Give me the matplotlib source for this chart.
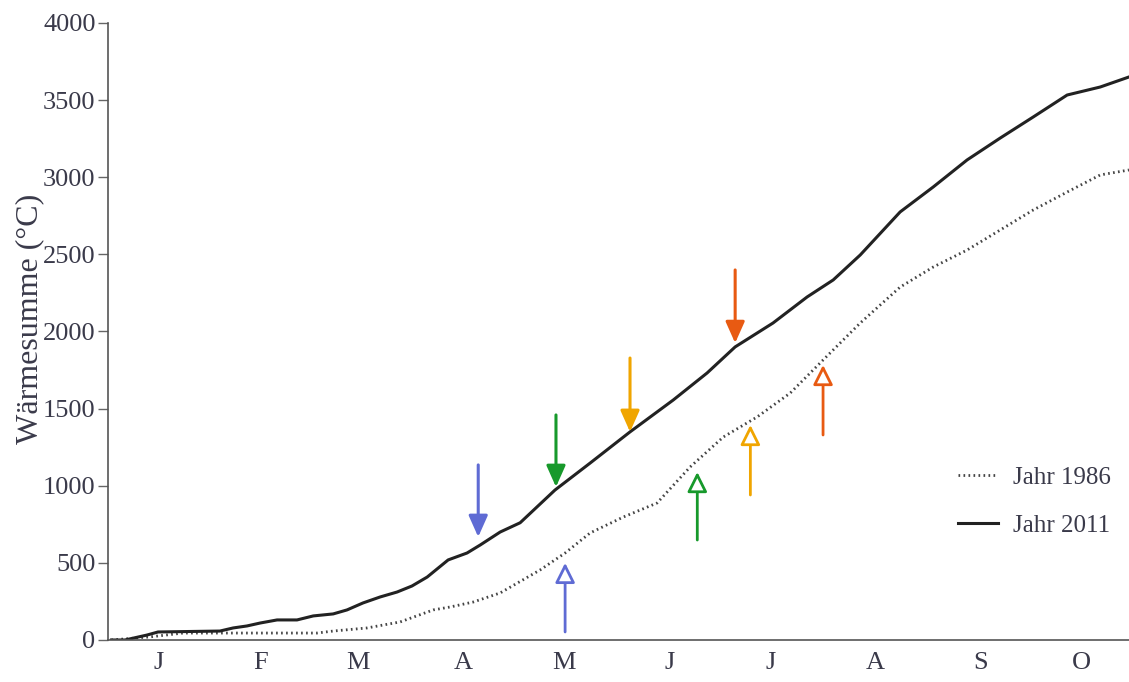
import matplotlib.pyplot as plt

plt.rcParams['font.family'] = ['Liberation Serif', 'DejaVu Serif']

# day of year and cumulative heat sum (°C)
days_2011 = [1, 5, 11.5, 14.8, 33.1, 37, 41.1, 45, 50, 55.9, 60.7, 66.6, 70.7, 75.4,
             80.5, 85.5, 89.9, 94.4, 100.6, 106.2, 110.1, 116, 121.9, 132.2, 142.6,
             154.4, 167.2, 177.2, 185.5, 196.7, 206.8, 214.5, 222.5, 234.3, 244.1,
             254.1, 263.9, 273.7, 283.7, 293.5, 302]
sum_2011 = [0, 0, 32, 52, 58, 78, 91, 110, 130, 130, 156, 169, 195, 240,
            279, 311, 350, 408, 519, 564, 616, 700, 760, 972, 1147,
            1349, 1556, 1731, 1900, 2055, 2224, 2334, 2496, 2775, 2937,
            3112, 3254, 3391, 3533, 3585, 3650]

days_1986 = [1, 12.4, 22.2, 61.8, 66.6, 76.6, 86.4, 96.2, 101.2, 108, 116, 127.8,
             135.2, 142.6, 152.4, 162.4, 172.2, 182, 192, 201.8, 211.5, 222.5,
             234.3, 244.1, 254.1, 263.9, 273.7, 283.7, 293.5, 302]
sum_1986 = [0, 20, 45, 45, 58, 78, 117, 195, 214, 246, 305, 454,
            564, 694, 797, 888, 1122, 1316, 1446, 1601, 1815, 2055,
            2288, 2418, 2528, 2658, 2788, 2904, 3015, 3047]

month_days = [15, 45, 74, 105, 135, 166, 196, 227, 258, 288]
month_labels = ['J', 'F', 'M', 'A', 'M', 'J', 'J', 'A', 'S', 'O']

arrow_colors = ['#5f6bd4', '#17992b', '#f0a500', '#e85a12']
# filled arrows pointing down onto 2011
down_x = [109.5, 132.5, 154.4, 185.5]
down_from = [1135, 1459, 1828, 2399]
down_to = [668, 992, 1349, 1925]
# open arrows pointing up towards 1986
up_x = [135.2, 174.3, 190, 211.5]
up_from = [52, 648, 940, 1329]
up_to = [500, 1089, 1394, 1783]

fig = plt.figure(figsize=(11.29, 6.82), dpi=100)
ax = fig.add_axes([0.0957, 0.0616, 0.9043, 0.9047])

ax.plot(days_1986, sum_1986, color='#444444', lw=2, linestyle=(0, (0.6, 1.2)), label='Jahr 1986')
ax.plot(days_2011, sum_2011, color='#222222', lw=2.2, label='Jahr 2011')

for c, x, y0, y1 in zip(arrow_colors, down_x, down_from, down_to):
    ax.annotate('', xy=(x, y1), xytext=(x, y0),
                arrowprops=dict(arrowstyle='-|>,head_length=0.65,head_width=0.29',
                                color=c, lw=2.2, mutation_scale=20, shrinkA=0, shrinkB=0))
for c, x, y0, y1 in zip(arrow_colors, up_x, up_from, up_to):
    ax.annotate('', xy=(x, y1), xytext=(x, y0),
                arrowprops=dict(arrowstyle='-|>,head_length=0.6,head_width=0.3',
                                ec=c, fc='white', lw=2.0, mutation_scale=20, shrinkA=0, shrinkB=0))

ax.set_xlim(0, 302)
ax.set_ylim(0, 4000)
ax.set_yticks(range(0, 4001, 500))
ax.set_xticks(month_days)
ax.set_xticklabels(month_labels)
ax.tick_params(axis='y', length=7, width=1, color='#666666', labelsize=19, labelcolor='#3a3a4a', pad=2)
ax.tick_params(axis='x', length=0, labelsize=19, labelcolor='#3a3a4a', pad=9)
for s in ['top', 'right']:
    ax.spines[s].set_visible(False)
for s in ['left', 'bottom']:
    ax.spines[s].set_color('#555555')
    ax.spines[s].set_linewidth(1.2)
ax.set_ylabel('Wärmesumme (°C)', fontsize=23, color='#3a3a4a', labelpad=2)
ax.yaxis.set_label_coords(-0.063, 0.52)

leg = ax.legend(loc='lower right', bbox_to_anchor=(1.004, 0.131), frameon=False, fontsize=18,
                handlelength=1.6, handletextpad=0.6, labelspacing=1.0)
for t in leg.get_texts():
    t.set_color('#3a3a4a')

fig.savefig('out.png', dpi=100)
